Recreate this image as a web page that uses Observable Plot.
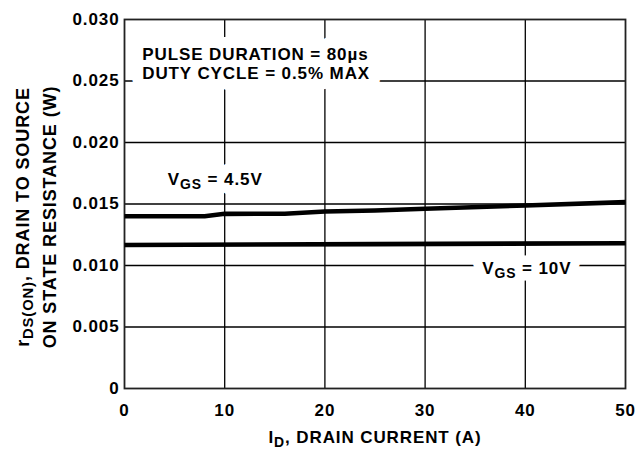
<!DOCTYPE html>
<html><head><meta charset="utf-8">
<script src="https://cdn.jsdelivr.net/npm/d3@7"></script>
<script src="https://cdn.jsdelivr.net/npm/@observablehq/plot@0.6"></script>
<style>
html,body{margin:0;padding:0;background:#fff;}
#chart svg text{letter-spacing:0.9px;}
</style></head><body><div id="chart"></div>
<script>
// Curve: VGS = 4.5V
const drainCurrent45 = [0, 8, 10, 16, 20, 25, 30, 40, 50];
const resistance45   = [0.01401, 0.01401, 0.01420, 0.01421, 0.01439, 0.01447, 0.01461, 0.01488, 0.01515];
// Curve: VGS = 10V
const drainCurrent10 = [0, 25, 50];
const resistance10   = [0.01167, 0.01174, 0.01181];

const xTicks = [0, 10, 20, 30, 40, 50];
const yTicks = [0, 0.005, 0.010, 0.015, 0.020, 0.025, 0.030];
const xGridValues = [10, 20, 30, 40];
const yGridValues = [0.005, 0.010, 0.015, 0.020, 0.025];

const xLabel = "I_{D}, DRAIN CURRENT (A)";
const yLabel1 = "r_{DS(ON)}, DRAIN TO SOURCE";
const yLabel2 = "ON STATE RESISTANCE (W)";
const note1 = "PULSE DURATION = 80µs";
const note2 = "DUTY CYCLE = 0.5% MAX";
const label45 = "V_{GS} = 4.5V";
const label10 = "V_{GS} = 10V";

const curve45 = drainCurrent45.map((x, i) => ({x, y: resistance45[i]}));
const curve10 = drainCurrent10.map((x, i) => ({x, y: resistance10[i]}));

// annotation placements (data coordinates of the text baseline start)
const notes = [
  {text: note1, x: 1.77, y: 0.02669},
  {text: note2, x: 1.77, y: 0.02514},
  {text: label45, x: 4.32, y: 0.01651},
  {text: label10, x: 35.7, y: 0.00932}
];

const common = {x: "x", y: "y", text: "text", textAnchor: "start", lineAnchor: "bottom"};

const chart = Plot.plot({
  width: 637, height: 449,
  marginLeft: 124, marginRight: 12, marginTop: 19, marginBottom: 61,
  style: {fontFamily: "'Liberation Sans', Arial, Helvetica, sans-serif", fontSize: "17px", fontWeight: "bold", background: "white", color: "black"},
  x: {domain: [0, 50]},
  y: {domain: [0, 0.03]},
  marks: [
    Plot.gridX(xGridValues, {stroke: "#000", strokeOpacity: 1, strokeWidth: 1.3}),
    Plot.gridY(yGridValues, {stroke: "#000", strokeOpacity: 1, strokeWidth: 1.3}),
    // white knock-out boxes behind the labels
    Plot.text(notes.slice(0, 2), {...common, fill: "white", stroke: "white", strokeWidth: 22}),
    Plot.text(notes.slice(2), {...common, fill: "white", stroke: "white", strokeWidth: 19}),
    Plot.text(notes, {...common, fill: "black"}),
    Plot.frame({stroke: "#222", strokeWidth: 1.8}),
    Plot.line(curve45, {x: "x", y: "y", stroke: "black", strokeWidth: 4.6, strokeLinecap: "butt"}),
    Plot.line(curve10, {x: "x", y: "y", stroke: "black", strokeWidth: 4.6, strokeLinecap: "butt"}),
    Plot.axisY({ticks: yTicks, tickSize: 0, tickPadding: 5, label: null,
      tickFormat: d => d === 0 ? "0" : d.toFixed(3)}),
    Plot.axisX({ticks: xTicks, tickSize: 0, tickPadding: 15, label: null}),
    Plot.text([xLabel], {text: d => d, frameAnchor: "bottom", lineAnchor: "bottom", dy: 54}),
    Plot.text([yLabel1], {text: d => d, frameAnchor: "left", rotate: -90, lineAnchor: "bottom", textAnchor: "middle", dx: -96, dy: 13, fontSize: 18}),
    Plot.text([yLabel2], {text: d => d, frameAnchor: "left", rotate: -90, lineAnchor: "bottom", textAnchor: "middle", dx: -69, dy: 13, fontSize: 18})
  ]
});

// render "_{...}" as subscripts
d3.select(chart).selectAll("text").each(function () {
  const t = this.textContent;
  if (!t.includes("_{")) return;
  const parts = t.split(/(_\{[^}]*\})/);
  const sel = d3.select(this);
  sel.text("");
  let shifted = false;
  for (const p of parts) {
    if (!p) continue;
    if (p.startsWith("_{")) {
      sel.append("tspan").attr("font-size", "82%").attr("dy", 4).text(p.slice(2, -1));
      shifted = true;
    } else {
      const ts = sel.append("tspan").text(p);
      if (shifted) { ts.attr("dy", -4); shifted = false; }
    }
  }
});

document.getElementById("chart").appendChild(chart);
</script></body></html>
